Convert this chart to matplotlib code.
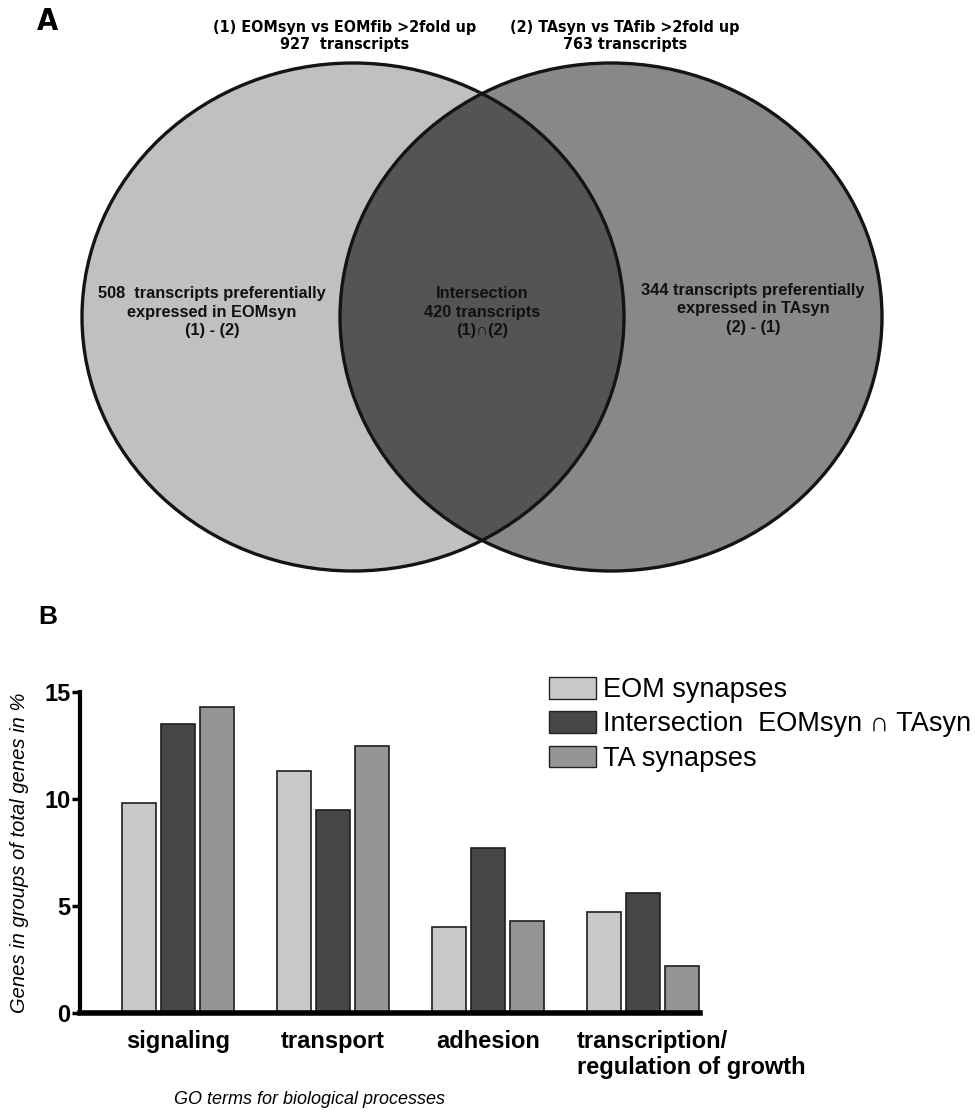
import numpy as np
import matplotlib
matplotlib.use("Agg")
import matplotlib.pyplot as plt
from matplotlib.patches import Ellipse, Patch
from matplotlib.transforms import ScaledTranslation

# venn counts
n_eom_total = 927
n_ta_total = 763
n_eom_only = 508
n_both = 420
n_ta_only = 344

# bar chart data (% of total genes)
categories = ["signaling", "transport", "adhesion", "transcription/\nregulation of growth"]
series_names = ["EOM synapses", "Intersection  EOMsyn \u2229 TAsyn", "TA synapses"]
eom_syn = [9.8, 11.3, 4.0, 4.7]
intersect = [13.5, 9.5, 7.7, 5.6]
ta_syn = [14.3, 12.5, 4.3, 2.2]
yticks = [0, 5, 10, 15]

bar_colors = ["#c9c9c9", "#474747", "#959595"]
narrow = ["Liberation Sans Narrow", "DejaVu Sans"]
arial = ["Liberation Sans", "DejaVu Sans"]

fig = plt.figure(figsize=(9.75, 11.13), dpi=100)

# ---- panel A: venn diagram, drawn in pixel space
axv = fig.add_axes([0, 0, 1, 1])
axv.set_xlim(0, 975)
axv.set_ylim(1113, 0)
axv.axis("off")

left = Ellipse((353, 317), 542, 508, facecolor="#c0c0c0", edgecolor="none")
right = Ellipse((611, 317), 542, 508, facecolor="#888888", edgecolor="none")
axv.add_patch(left)
axv.add_patch(right)
lens = Ellipse((611, 317), 542, 508, facecolor="#545454", edgecolor="none")
axv.add_patch(lens)
lens.set_clip_path(left)
for cx in (353, 611):
    axv.add_patch(Ellipse((cx, 317), 542, 508, facecolor="none",
                          edgecolor="#141414", linewidth=2.4))

title_font = dict(ha="center", va="center", fontsize=11.5, fontweight="bold",
                  family=narrow, fontstretch="condensed", linespacing=1.2)
axv.text(345, 36, f"(1) EOMsyn vs EOMfib >2fold up\n{n_eom_total}  transcripts", **title_font)
axv.text(625, 36, f"(2) TAsyn vs TAfib >2fold up\n{n_ta_total} transcripts", **title_font)

venn_font = dict(ha="center", va="center", fontsize=11.8, fontweight="bold",
                 family=arial, linespacing=1.29, color="#111111")
axv.text(212, 312, f"{n_eom_only}  transcripts preferentially\nexpressed in EOMsyn\n(1) - (2)",
         **venn_font)
axv.text(482, 312, f"Intersection\n{n_both} transcripts\n(1)\u2229(2)", **venn_font)
axv.text(753, 309, f"{n_ta_only} transcripts preferentially\nexpressed in TAsyn\n(2) - (1)",
         **venn_font)

axv.text(37, 21, "A", ha="left", va="center", fontsize=22, fontweight="bold",
         family=narrow, fontstretch="condensed")
axv.text(38, 617, "B", ha="left", va="center", fontsize=19, fontweight="bold",
         family=arial)

# ---- panel B: grouped bars
ax = fig.add_axes([80 / 975, 1 - 1013 / 1113, 620 / 975, 321 / 1113])
x = np.arange(len(categories))
w = 0.219
step = 0.252
for i, (vals, name) in enumerate(zip([eom_syn, intersect, ta_syn], series_names)):
    ax.bar(x + (i - 1) * step, vals, width=w, color=bar_colors[i],
           edgecolor="#1e1e1e", linewidth=1.2, label=name)

ax.set_xlim(-0.632, 3.37)
ax.set_ylim(0, 15)
ax.set_yticks(yticks)
ax.set_yticklabels([str(t) for t in yticks], fontsize=17, fontweight="bold", family=arial)
ax.tick_params(axis="y", length=6, width=2.5, direction="out", pad=1)
ax.spines["top"].set_visible(False)
ax.spines["right"].set_visible(False)
ax.spines["left"].set_linewidth(3)
ax.spines["bottom"].set_linewidth(4)
ax.spines["bottom"].set_capstyle("projecting")

ax.set_xticks(x)
ax.set_xticklabels(categories, fontsize=17, fontweight="bold", family=arial, linespacing=1.2)
ax.tick_params(axis="x", length=0, pad=12)
# the last category label is left aligned under its group
last = ax.get_xticklabels()[-1]
last.set_ha("left")
last.set_multialignment("left")
last.set_transform(last.get_transform() + ScaledTranslation(-0.66, 0, fig.dpi_scale_trans))

ax.set_ylabel("Genes in groups of total genes in %", fontsize=14.5, style="italic", family=arial)
ax.yaxis.set_label_coords(-0.082, 0.5)
ax.text(0.37, -0.27, "GO terms for biological processes", transform=ax.transAxes,
        ha="center", va="center", fontsize=13, style="italic", family=arial)

handles = [Patch(facecolor=c, edgecolor="#222222", linewidth=1) for c in bar_colors]
fig.legend(handles, series_names, loc="upper left", bbox_to_anchor=(549 / 975, 1 - 677 / 1113),
           frameon=False, handlelength=1.75, handleheight=0.85,
           handletextpad=0.25, labelspacing=0.3, borderpad=0, borderaxespad=0,
           prop={"family": arial, "size": 19.5})

fig.savefig("out.png", dpi=100)
